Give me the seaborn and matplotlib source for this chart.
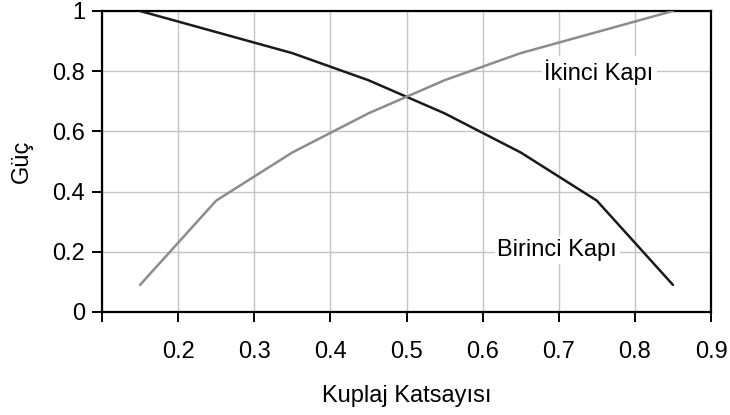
import matplotlib
matplotlib.use("Agg")
import matplotlib.pyplot as plt
import seaborn as sns
import pandas as pd

# Coupling coefficient samples and power at each port
kuplaj = [0.15, 0.25, 0.35, 0.45, 0.55, 0.65, 0.75, 0.85]
birinci_kapi = [1.00, 0.93, 0.86, 0.77, 0.66, 0.53, 0.37, 0.09]
ikinci_kapi = [0.09, 0.37, 0.53, 0.66, 0.77, 0.86, 0.93, 1.00]

x_ticks = [0.1, 0.2, 0.3, 0.4, 0.5, 0.6, 0.7, 0.8, 0.9]
x_tick_labels = ["", "0.2", "0.3", "0.4", "0.5", "0.6", "0.7", "0.8", "0.9"]
y_ticks = [0, 0.2, 0.4, 0.6, 0.8, 1.0]
y_tick_labels = ["0", "0.2", "0.4", "0.6", "0.8", "1"]

df = pd.DataFrame({
    "Kuplaj": kuplaj * 2,
    "Güç": birinci_kapi + ikinci_kapi,
    "Kapı": ["Birinci Kapı"] * len(kuplaj) + ["İkinci Kapı"] * len(kuplaj),
})

sns.set_theme(style="white")
plt.rcParams["font.family"] = ["Liberation Sans", "DejaVu Sans"]
FS = 17

fig = plt.figure(figsize=(7.3, 4.15), dpi=100)
ax = fig.add_axes([0.1397, 0.2482, 0.8343, 0.7253])

sns.lineplot(data=df, x="Kuplaj", y="Güç", hue="Kapı",
             palette={"Birinci Kapı": "#1a1a1a", "İkinci Kapı": "#8c8c8c"},
             linewidth=1.8, legend=False, ax=ax, zorder=3)

ax.set_xlim(0.1, 0.9)
ax.set_ylim(0, 1)
ax.set_xticks(x_ticks)
ax.set_xticklabels(x_tick_labels)
ax.set_yticks(y_ticks)
ax.set_yticklabels(y_tick_labels)

ax.grid(True, color="#c4c4c4", linewidth=1.0)
ax.set_axisbelow(True)
for s in ax.spines.values():
    s.set_visible(True)
    s.set_color("black")
    s.set_linewidth(1.6)

ax.tick_params(axis="both", which="major", direction="out", length=7,
               width=1.4, color="black", labelsize=FS, labelcolor="black",
               bottom=True, left=True)
ax.tick_params(axis="x", pad=14)
ax.tick_params(axis="y", pad=5)

ax.set_xlabel("Kuplaj Katsayısı", fontsize=FS, color="black", labelpad=16)
ax.set_ylabel("Güç", fontsize=FS, color="black", labelpad=14)

box = dict(facecolor="white", edgecolor="none", pad=2)
ax.text(0.753, 0.797, "İkinci Kapı", fontsize=FS, color="black",
        ha="center", va="center", bbox=box, zorder=2)
ax.text(0.698, 0.205, "Birinci Kapı", fontsize=FS, color="black",
        ha="center", va="center", bbox=box, zorder=2)

fig.savefig("out.png", dpi=100)
